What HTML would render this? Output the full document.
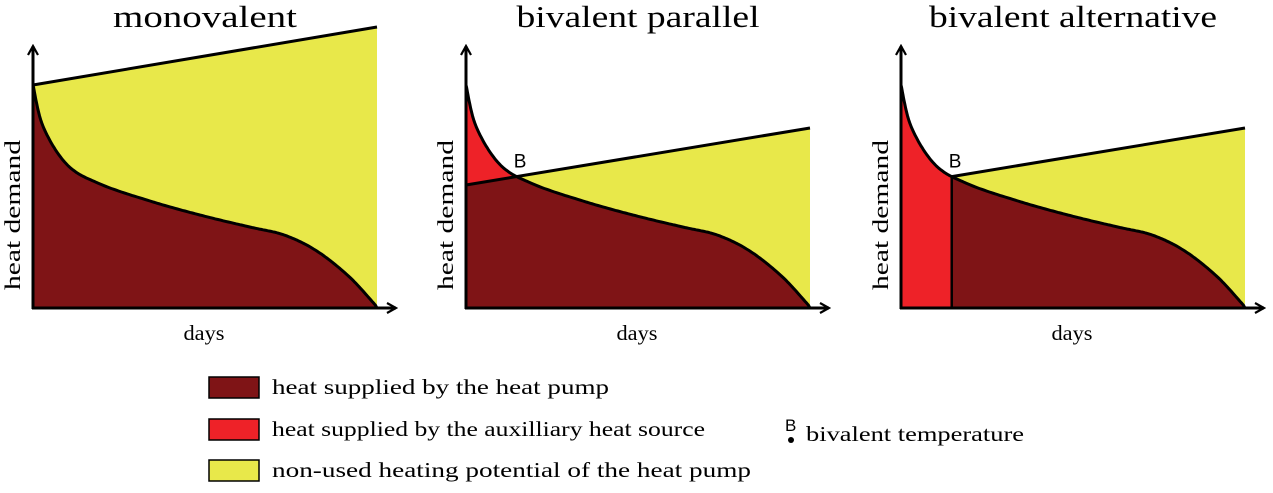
<!DOCTYPE html>
<html><head><meta charset="utf-8"><style>
body{margin:0;background:#fff;width:1273px;height:488px;overflow:hidden}
svg text{font-family:"Liberation Serif",serif}
</style></head><body>
<svg id="c" width="1273" height="488">
<defs><marker id="ar" viewBox="0 0 12 12" refX="10" refY="6" markerWidth="12" markerHeight="12" markerUnits="userSpaceOnUse" orient="auto"><path d="M1,1 L10,6 L1,11" fill="none" stroke="#000" stroke-width="2.2"/></marker></defs>
<g>
<rect x="209" y="377" width="50" height="21" fill="#7f1416" stroke="#000" stroke-width="1.5"/>
<text x="272" y="394" font-size="21" textLength="337" lengthAdjust="spacingAndGlyphs">heat supplied by the heat pump</text>
<rect x="209" y="419" width="50" height="21" fill="#ee2228" stroke="#000" stroke-width="1.5"/>
<text x="272" y="436" font-size="21" textLength="433" lengthAdjust="spacingAndGlyphs">heat supplied by the auxilliary heat source</text>
<rect x="209" y="460" width="50" height="21" fill="#e8e84a" stroke="#000" stroke-width="1.5"/>
<text x="272" y="477" font-size="21" textLength="479" lengthAdjust="spacingAndGlyphs">non-used heating potential of the heat pump</text>
<text x="785" y="431" font-size="17" style="font-family:'Liberation Sans',sans-serif">B</text>
<circle cx="791" cy="440" r="3" fill="#000"/>
<text x="806" y="441" font-size="21" textLength="218" lengthAdjust="spacingAndGlyphs">bivalent temperature</text>
</g>
</svg>
<script>
// demand duration curve (fraction of days, height in px-scale units 0..223)
const dayFrac=[0,0.03,0.1,0.195,0.34,0.485,0.63,0.73,0.825,0.92,0.995];
const demand=[223,181,143,124,107,93,81,73,57,31,3];
const titles=["monovalent","bivalent parallel","bivalent alternative"];
const capStart=[223,123,123];
const capEnd=[281,180,180];
const modes=["mono","parallel","alternative"];
const origins=[[33,308],[466,308],[901,308]];
const titleLen=[184,243,288];
const W=344;
const NS="http://www.w3.org/2000/svg",svg=document.getElementById('c');
function mk(t,a,p){const e=document.createElementNS(NS,t);for(const k in a)e.setAttribute(k,a[k]);(p||svg).appendChild(e);return e;}
function curvePts(){const pts=[];const n=dayFrac.length;
 for(let i=0;i<n-1;i++){const p0=i>0?i-1:i,p3=i+2<n?i+2:i+1;
  for(let s=0;s<20;s++){const t=s/20;
   const f=(a)=>{const P0=a[p0],P1=a[i],P2=a[i+1],P3=a[p3];return 0.5*((2*P1)+(-P0+P2)*t+(2*P0-5*P1+4*P2-P3)*t*t+(-P0+3*P1-3*P2+P3)*t*t*t);};
   pts.push([f(dayFrac),f(demand)]);}}
 pts.push([dayFrac[n-1],demand[n-1]]);pts.push([1,0]);return pts;}
const cp=curvePts();
origins.forEach((o,k)=>{
 const g=mk('g',{});
 
 
 const X=f=>o[0]+f*W, Y=v=>o[1]-v;
 const cap=f=>capStart[k]+(capEnd[k]-capStart[k])*f;
 const P=cp.map(p=>[X(p[0]),Y(p[1])]);
 let bi=0;for(let i=0;i<cp.length;i++){if(cp[i][1]<=cap(cp[i][0])){bi=i;break;}}
 const bf=cp[bi][0];
 const ln=(a)=>a.map(p=>p[0].toFixed(1)+','+p[1].toFixed(1)).join(' ');
 const yel=mk('polygon',{fill:'#e8e84a',points:ln([[X(bf),Y(cap(bf))],[X(1),Y(cap(1))],[X(1),Y(0)]].concat(P.slice(bi).reverse()))},g);
 
 
 let hp;
 if(k==0){hp=ln(P.concat([[X(0),Y(0)]]));}
 else if(k==1){hp=ln([[X(0),Y(cap(0))]].concat(P.slice(bi)).concat([[X(0),Y(0)]]));
  const red=mk('polygon',{fill:'#ee2228',points:ln(P.slice(0,bi+1).concat([[X(0),Y(cap(0))]]))},g);
  
  }
 else {hp=ln(P.slice(bi).concat([[X(bf),Y(0)]]));
  const red=mk('polygon',{fill:'#ee2228',points:ln(P.slice(0,bi+1).concat([[X(bf),Y(0)],[X(0),Y(0)]]))},g);
  
  }
 const hpE=mk('polygon',{fill:'#7f1416',points:hp},g);
 
 
 const cE=mk('polyline',{fill:'none',stroke:'#000','stroke-width':3,'stroke-linejoin':'round',points:ln(P)},g);
 
 
 const c0=k==2?bf:0;
 const capL=mk('line',{x1:X(c0),y1:Y(cap(c0)),x2:X(1),y2:Y(cap(1)),stroke:'#000','stroke-width':3},g);
 
 
 if(k==2){const v=mk('line',{x1:X(bf),y1:Y(cap(bf)),x2:X(bf),y2:Y(0),stroke:'#000','stroke-width':2.5},g);
  
  }
 if(k>0){const b=mk('text',{x:X(bf)-3,y:Y(cap(bf))-9,'font-size':19,style:"font-family:'Liberation Sans',sans-serif"},g);b.textContent='B';
  
  }
 const ya=mk('line',{x1:o[0],y1:o[1]+1,x2:o[0],y2:o[1]-262,stroke:'#000','stroke-width':3,'marker-end':'url(#ar)'},g);
 
 
 const xa=mk('line',{x1:o[0]-1,y1:o[1],x2:o[0]+W+19,y2:o[1],stroke:'#000','stroke-width':3,'marker-end':'url(#ar)'},g);
 
 
 const t=mk('text',{x:o[0]+W/2,y:27,'font-size':31,'text-anchor':'middle',textLength:titleLen[k],lengthAdjust:'spacingAndGlyphs'},g);t.textContent=titles[k];
 
 
 const xl=mk('text',{x:o[0]+W/2-1,y:340,'font-size':21,'text-anchor':'middle',textLength:41,lengthAdjust:'spacingAndGlyphs'},g);xl.textContent='days';
 
 
 const yl=mk('text',{x:0,y:0,'font-size':22,'text-anchor':'middle',textLength:150,lengthAdjust:'spacingAndGlyphs',transform:`translate(${o[0]-13},215) rotate(-90)`},g);yl.textContent='heat demand';
 
 
});
</script>
</body></html>
